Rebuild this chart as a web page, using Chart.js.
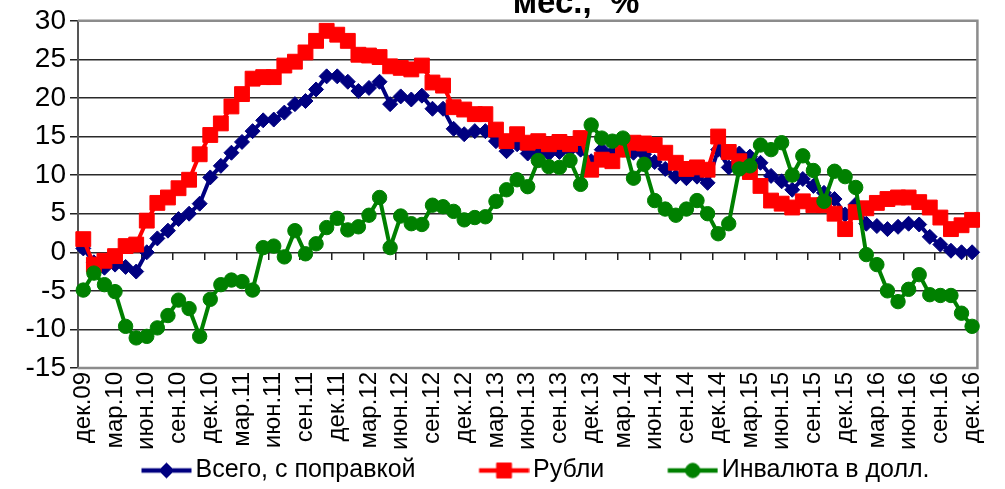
<!DOCTYPE html>
<html>
<head>
<meta charset="utf-8">
<script src="https://cdn.jsdelivr.net/npm/chart.js@4.4.1/dist/chart.umd.min.js"></script>
<style>
    html, body { margin: 0; padding: 0; background: #fff; }
    canvas { display: block; }
</style>
</head>
<body>
<canvas id="myChart" width="1005" height="489"></canvas>
<script>
const months = [
    'дек.09',
    'янв.10', 'фев.10', 'мар.10', 'апр.10', 'май.10', 'июн.10', 'июл.10', 'авг.10', 'сен.10', 'окт.10', 'ноя.10', 'дек.10',
    'янв.11', 'фев.11', 'мар.11', 'апр.11', 'май.11', 'июн.11', 'июл.11', 'авг.11', 'сен.11', 'окт.11', 'ноя.11', 'дек.11',
    'янв.12', 'фев.12', 'мар.12', 'апр.12', 'май.12', 'июн.12', 'июл.12', 'авг.12', 'сен.12', 'окт.12', 'ноя.12', 'дек.12',
    'янв.13', 'фев.13', 'мар.13', 'апр.13', 'май.13', 'июн.13', 'июл.13', 'авг.13', 'сен.13', 'окт.13', 'ноя.13', 'дек.13',
    'янв.14', 'фев.14', 'мар.14', 'апр.14', 'май.14', 'июн.14', 'июл.14', 'авг.14', 'сен.14', 'окт.14', 'ноя.14', 'дек.14',
    'янв.15', 'фев.15', 'мар.15', 'апр.15', 'май.15', 'июн.15', 'июл.15', 'авг.15', 'сен.15', 'окт.15', 'ноя.15', 'дек.15',
    'янв.16', 'фев.16', 'мар.16', 'апр.16', 'май.16', 'июн.16', 'июл.16', 'авг.16', 'сен.16', 'окт.16', 'ноя.16', 'дек.16'
];

// Всего, с поправкой
const total = [
    0.5, -1.3, -2.0, -1.6, -1.9, -2.5, 0.0, 1.8, 2.8, 4.3,
    5.0, 6.3, 9.7, 11.2, 12.9, 14.3, 15.7, 17.1, 17.2, 18.1,
    19.2, 19.6, 21.1, 22.8, 22.8, 22.1, 20.9, 21.3, 22.1, 19.2,
    20.2, 19.8, 20.3, 18.6, 18.6, 16.0, 15.3, 15.7, 15.7, 14.4,
    13.1, 14.0, 12.8, 13.1, 12.8, 13.0, 13.3, 13.3, 11.8, 13.3,
    12.9, 13.3, 12.9, 12.7, 11.7, 10.8, 9.8, 9.6, 9.8, 9.0,
    13.3, 11.0, 12.8, 12.4, 11.6, 9.9, 9.2, 8.1, 9.5, 8.6,
    7.7, 6.9, 4.9, 6.2, 3.7, 3.4, 3.0, 3.3, 3.7, 3.6,
    2.0, 1.0, 0.2, 0.0, 0.0
];

// Рубли
const rubles = [
    1.7, -1.6, -1.1, -0.5, 0.8, 1.0, 4.1, 6.4, 7.1, 8.3,
    9.4, 12.7, 15.2, 16.7, 18.9, 20.5, 22.5, 22.7, 22.7, 24.2,
    24.7, 25.9, 27.4, 28.7, 28.2, 27.4, 25.6, 25.5, 25.3, 24.1,
    23.9, 23.7, 24.2, 22.0, 21.6, 18.8, 18.5, 17.9, 17.9, 15.9,
    14.4, 15.3, 14.2, 14.4, 14.0, 14.3, 14.0, 14.8, 10.7, 12.0,
    11.8, 13.3, 14.2, 14.1, 13.9, 12.9, 11.6, 10.8, 11.0, 10.7,
    15.0, 13.0, 11.8, 10.4, 8.6, 6.7, 6.3, 5.8, 6.6, 6.1,
    6.1, 5.0, 3.0, 5.2, 5.7, 6.4, 6.9, 7.1, 7.1, 6.5,
    5.8, 4.5, 3.0, 3.5, 4.2
];

// Инвалюта в долл.
const fx = [
    -4.9, -2.7, -4.2, -5.1, -9.6, -11.1, -10.9, -9.8, -8.2, -6.2,
    -7.3, -10.9, -6.1, -4.2, -3.6, -3.8, -4.9, 0.6, 0.8, -0.6,
    2.8, -0.2, 1.1, 3.2, 4.4, 2.9, 3.3, 4.8, 7.1, 0.6,
    4.7, 3.7, 3.6, 6.1, 5.9, 5.3, 4.2, 4.5, 4.6, 6.6,
    8.1, 9.4, 8.5, 11.9, 11.1, 11.0, 11.9, 8.8, 16.5, 14.8,
    14.4, 14.8, 9.6, 11.4, 6.7, 5.6, 4.8, 5.6, 6.7, 5.0,
    2.4, 3.7, 10.8, 11.2, 13.9, 13.3, 14.2, 10.0, 12.5, 10.6,
    6.6, 10.5, 9.8, 8.4, -0.3, -1.6, -5.0, -6.4, -4.8, -2.9,
    -5.5, -5.6, -5.6, -7.9, -9.6
];

const seriesNames = ['Всего, с поправкой', 'Рубли', 'Инвалюта в долл.'];
const titleTail = 'мес.,  %';
const yMin = -15, yMax = 30, yStep = 5;

const FONT = '"Liberation Sans", Arial, sans-serif';
Chart.defaults.font.family = FONT;
Chart.defaults.color = '#000';

const styles = [
    { color: '#000080', point: 'rectRot', radius: 7.5 },
    { color: '#FF0000', point: 'rect', radius: 10.5 },
    { color: '#008000', point: 'circle', radius: 7.2 }
];

const LEG_BOX = 103;
// legend icon: line with marker, placed right before the text
function legendIcon(st) {
    const c = document.createElement('canvas');
    c.width = LEG_BOX + 18;
    c.height = 24;
    const g = c.getContext('2d');
    const x1 = c.width - 0.5, x0 = x1 - 50, y = c.height / 2;
    g.strokeStyle = st.color;
    g.lineWidth = 4.5;
    g.beginPath();
    g.moveTo(x0, y);
    g.lineTo(x1, y);
    g.stroke();
    g.fillStyle = st.color;
    g.lineWidth = 1;
    Chart.helpers.drawPoint(g, { pointStyle: st.point, radius: st.radius, borderWidth: 1, rotation: 0 }, (x0 + x1) / 2, y);
    return c;
}

const plotFrame = {
    id: 'plotFrame',
    beforeDatasetsDraw(chart) {
        const { ctx, chartArea: a } = chart;
        ctx.save();
        ctx.strokeStyle = '#8c8c8c';
        ctx.lineWidth = 2.5;
        ctx.beginPath();
        ctx.moveTo(a.left, a.top);
        ctx.lineTo(a.right, a.top);
        ctx.lineTo(a.right, a.bottom);
        ctx.lineTo(a.left, a.bottom);
        ctx.stroke();
        ctx.restore();
    }
};

const topTitle = {
    id: 'topTitle',
    afterDraw(chart) {
        const ctx = chart.ctx;
        ctx.save();
        ctx.font = 'bold 33px ' + FONT;
        ctx.fillStyle = '#000';
        ctx.textAlign = 'center';
        ctx.textBaseline = 'alphabetic';
        ctx.fillText(titleTail, 576, 13);
        ctx.restore();
    }
};

const datasets = [total, rubles, fx].map((d, i) => ({
    label: seriesNames[i],
    data: d,
    xAxisID: 'x',
    borderColor: styles[i].color,
    backgroundColor: styles[i].color,
    borderWidth: 4,
    pointStyle: styles[i].point,
    pointRadius: styles[i].radius,
    pointHoverRadius: styles[i].radius,
    pointBackgroundColor: styles[i].color,
    pointBorderColor: styles[i].color,
    pointBorderWidth: 1,
    tension: 0,
    clip: false,
    order: 3 - i
}));

new Chart(document.getElementById('myChart'), {
    type: 'line',
    data: { labels: months, datasets: datasets },
    plugins: [plotFrame, topTitle],
    options: {
        responsive: false,
        animation: false,
        layout: { padding: { top: 19, right: 16, bottom: -4, left: 0 } },
        plugins: {
            tooltip: { enabled: false },
            legend: {
                position: 'bottom',
                align: 'start',
                fullSize: false,
                labels: {
                    usePointStyle: true,
                    pointStyleWidth: LEG_BOX,
                    padding: 2,
                    font: { size: 25 },
                    color: '#000',
                    generateLabels: (chart) => chart.data.datasets.map((ds, i) => ({
                        text: ds.label,
                        datasetIndex: i,
                        hidden: false,
                        lineWidth: 0,
                        fillStyle: styles[i].color,
                        strokeStyle: styles[i].color,
                        fontColor: '#000',
                        pointStyle: legendIcon(styles[i])
                    }))
                }
            }
        },
        scales: {
            x: {
                type: 'category',
                position: 'bottom',
                offset: true,
                afterFit: (s) => { s.height = 88; },
                grid: { display: false, drawTicks: false },
                border: { display: false },
                ticks: {
                    autoSkip: false,
                    minRotation: 90,
                    maxRotation: 90,
                    padding: 4,
                    font: { size: 24 },
                    color: '#000',
                    callback: (v, i) => (i % 3 === 0 ? months[i] : '')
                }
            },
            x2: {
                type: 'category',
                position: { y: 0 },
                offset: true,
                grid: {
                    offset: true,
                    drawOnChartArea: false,
                    drawTicks: true,
                    tickLength: 8,
                    lineWidth: 1.5,
                    color: (c) => (c.index % 3 === 0 ? '#222' : 'rgba(0,0,0,0)')
                },
                border: { display: false },
                ticks: { display: false, autoSkip: false }
            },
            y: {
                min: yMin,
                max: yMax,
                afterFit: (s) => { s.width = 78; },
                ticks: {
                    stepSize: yStep,
                    padding: 4,
                    font: { size: 28 },
                    color: '#000'
                },
                grid: {
                    lineWidth: 1.5,
                    tickLength: 8,
                    tickColor: '#222',
                    color: (c) => (c.tick && (c.tick.value === yMax || c.tick.value === yMin) ? 'rgba(0,0,0,0)' : '#2a2a2a')
                },
                border: { color: '#555', width: 2 }
            }
        }
    }
});
</script>
</body>
</html>
